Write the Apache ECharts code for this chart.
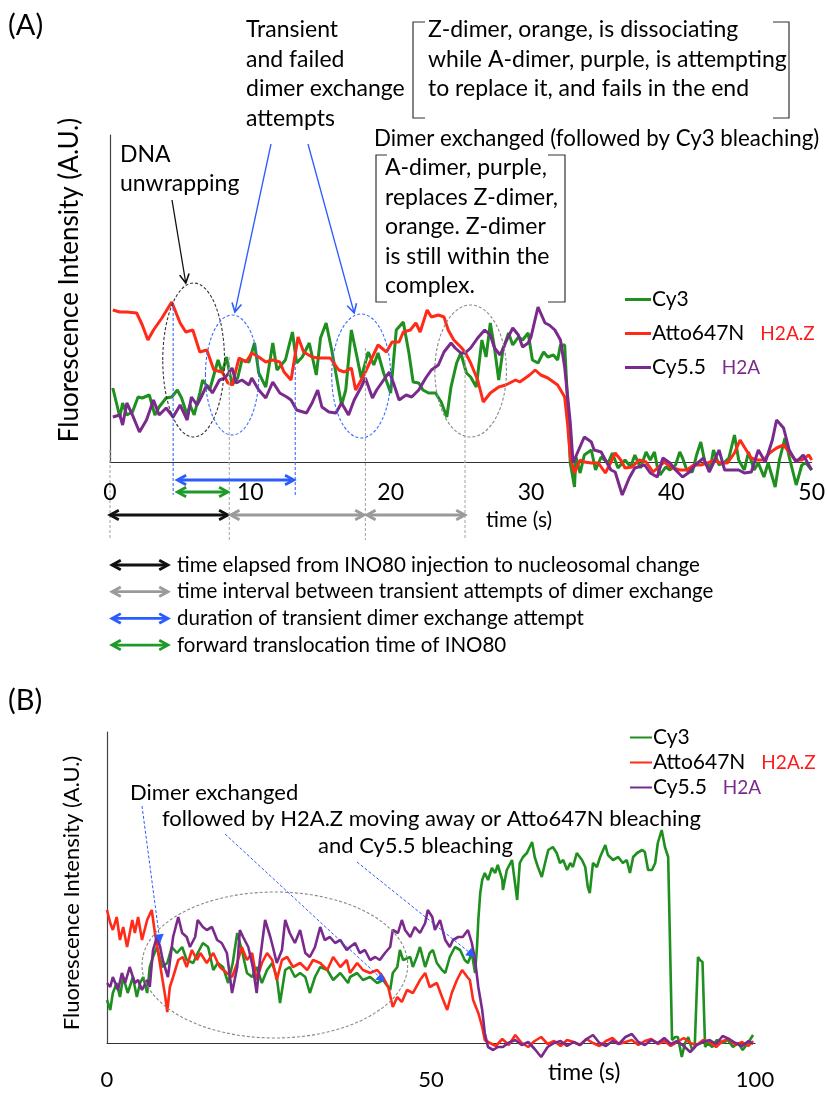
<!DOCTYPE html>
<html>
<head>
<meta charset="utf-8">
<script src="https://cdn.jsdelivr.net/npm/echarts@6/dist/echarts.min.js"></script>
<style>
  html, body { margin: 0; padding: 0; background: #fff; }
  #main { width: 828px; height: 1097px; }
</style>
</head>
<body>
<div id="main"></div>
<script>
// ---- data: [time (s), intensity (A.U.)] ----
const seriesNames = ['Cy3', 'Atto647N', 'Cy5.5']
const ticksA = [0, 10, 20, 30, 40, 50]
const ticksB = [0, 50, 100]

// (A) trace
const cy3A = [[0.2,74],[0.7,45],[0.9,59],[1.2,47],[1.6,50],[2.0,65],[2.3,64],[2.8,67],[3.2,47],[3.5,55],[4.0,64],[4.4,65],[4.8,72],[5.1,64],[5.5,47],[5.7,57],[6.0,47],[6.4,69],[6.6,82],[7.1,72],[7.7,102],[8.0,89],[8.3,105],[8.7,77],[9.1,84],[9.4,102],[9.9,100],[10.3,119],[10.6,89],[11.1,75],[11.6,119],[11.9,92],[12.5,102],[13.0,130],[13.3,99],[13.7,105],[14.2,119],[14.7,87],[15.0,124],[15.4,139],[15.8,112],[16.5,57],[16.8,72],[17.2,132],[17.6,105],[17.9,84],[18.4,110],[18.8,97],[19.1,109],[19.5,89],[20.0,69],[20.4,132],[20.9,140],[21.3,109],[21.6,80],[22.0,79],[22.3,72],[22.7,69],[23.2,69],[23.6,60],[24.0,45],[24.3,75],[24.7,99],[25.0,109],[25.4,89],[25.7,85],[26.1,75],[26.5,122],[26.8,105],[27.1,139],[27.4,114],[27.7,82],[28.0,112],[28.4,129],[28.7,117],[29.1,125],[29.4,122],[29.8,129],[30.1,102],[30.5,99],[30.9,110],[31.2,105],[31.6,107],[31.9,102],[32.1,117],[32.4,117],[32.6,62],[32.8,-1],[33.1,-25],[33.2,5],[33.5,-11],[33.8,7],[34.3,12],[34.6,-8],[35.0,5],[35.5,-1],[35.8,9],[36.2,-6],[36.7,2],[37.1,-5],[37.4,7],[37.8,-6],[38.2,10],[38.5,2],[38.8,10],[39.0,-5],[39.2,-13],[39.6,-5],[39.9,-8],[40.3,-3],[40.6,10],[40.8,4],[41.1,-8],[41.5,-10],[41.8,7],[42.1,20],[42.4,-1],[42.8,-5],[43.0,12],[43.4,-3],[43.8,0],[44.1,4],[44.5,27],[44.8,2],[45.2,-8],[45.5,10],[45.9,-8],[46.2,-1],[46.6,-15],[46.9,-1],[47.4,-25],[47.7,2],[48.1,24],[48.4,5],[48.9,-23],[49.3,-3],[49.6,-1],[50.0,-8]]
const atto647A = [[0.2,152],[0.7,150],[1.2,150],[1.9,149],[2.3,137],[2.7,122],[3.1,132],[3.7,144],[4.4,160],[5.0,139],[5.4,130],[5.9,132],[6.4,110],[6.9,112],[7.4,92],[8.0,90],[8.4,79],[8.7,77],[9.2,104],[9.7,100],[10.1,109],[10.6,105],[11.1,100],[11.6,102],[12.1,100],[12.4,90],[12.9,82],[13.4,125],[13.8,110],[14.4,105],[14.9,104],[15.7,104],[16.3,92],[16.7,90],[17.2,94],[17.5,72],[17.9,82],[18.2,90],[18.7,105],[19.1,117],[19.7,110],[20.1,120],[20.6,120],[20.9,130],[21.4,132],[21.8,139],[22.1,130],[22.6,152],[22.9,145],[23.4,147],[23.8,145],[24.1,132],[24.5,122],[25.0,115],[25.3,110],[25.7,99],[26.2,82],[26.6,60],[27.1,69],[27.7,75],[28.2,77],[28.9,82],[29.2,80],[29.6,84],[29.9,87],[30.3,92],[30.7,87],[31.2,84],[31.9,77],[32.4,65],[32.6,39],[32.8,5],[33.1,-11],[33.5,2],[33.8,0],[34.3,-1],[34.8,-1],[35.3,-11],[35.7,0],[36.0,9],[36.4,2],[36.7,-6],[37.2,-5],[37.7,2],[38.2,0],[38.7,-10],[39.1,-5],[39.5,0],[39.9,-5],[40.6,-8],[41.1,-8],[41.6,-3],[42.1,-3],[42.6,-1],[43.0,2],[43.5,-1],[44.0,-1],[44.5,9],[44.9,22],[45.2,15],[45.7,4],[46.1,2],[46.6,2],[47.0,9],[47.5,14],[48.0,17],[48.4,10],[48.8,2],[49.3,2],[49.8,7],[50.0,2]]
const cy55A = [[0.2,45],[0.7,47],[0.9,37],[1.2,59],[1.6,47],[2.1,30],[2.6,42],[3.1,62],[3.5,47],[4.0,54],[4.5,45],[5.0,57],[5.5,42],[5.8,65],[6.2,57],[6.5,65],[6.9,77],[7.3,69],[7.8,82],[8.2,84],[8.7,94],[9.0,79],[9.4,82],[9.9,77],[10.1,84],[10.6,72],[11.1,64],[11.6,80],[12.1,69],[12.6,65],[12.9,62],[13.3,52],[14.0,49],[14.4,59],[14.8,72],[15.1,55],[15.6,50],[16.1,49],[16.5,59],[17.0,47],[17.4,62],[17.9,75],[18.2,84],[18.7,64],[19.0,72],[19.5,82],[19.9,90],[20.2,79],[20.6,62],[21.1,67],[21.5,65],[22.0,72],[22.5,84],[22.9,92],[23.4,97],[23.8,110],[24.3,119],[24.6,114],[25.0,109],[25.3,109],[25.7,114],[26.2,124],[26.7,132],[27.1,127],[27.4,114],[27.8,107],[28.2,120],[28.7,134],[29.1,127],[29.4,115],[29.8,119],[30.0,125],[30.5,155],[31.0,139],[31.3,137],[31.7,132],[32.1,122],[32.4,95],[32.8,39],[33.0,-1],[33.3,9],[33.8,25],[34.3,20],[34.5,12],[35.0,10],[35.3,2],[35.7,-8],[36.0,-10],[36.5,-33],[37.0,-16],[37.4,-6],[38.1,-3],[38.5,-11],[39.0,-15],[39.4,4],[39.9,-1],[40.3,-8],[40.8,-15],[41.3,-10],[41.7,-3],[42.3,4],[42.7,-10],[43.0,-1],[43.4,12],[43.8,-8],[44.3,-8],[44.8,-8],[45.2,-11],[45.7,-10],[46.2,12],[46.7,0],[47.2,22],[47.5,42],[48.0,34],[48.4,12],[48.9,0],[49.4,7],[50.0,-8]]

// (B) trace
const cy3B = [[0,43],[0.5,33],[0.9,50],[1.5,60],[2.0,46],[2.5,66],[3.2,50],[4.0,66],[4.6,46],[5.1,60],[5.6,66],[6.2,50],[6.6,76],[7.1,86],[7.7,96],[8.5,76],[9.3,80],[10.0,96],[10.8,90],[11.6,96],[12.3,83],[13.3,80],[14.0,90],[14.8,100],[15.6,96],[16.4,73],[17.1,80],[17.9,76],[18.7,60],[19.4,80],[20.1,110],[20.8,93],[21.6,70],[22.4,66],[23.1,76],[23.9,60],[24.7,73],[25.5,80],[26.2,66],[26.7,40],[27.5,73],[28.2,76],[29.0,66],[29.8,70],[30.6,66],[31.3,50],[32.1,66],[32.9,76],[34.0,73],[34.9,63],[36.0,70],[37.2,60],[37.5,66],[38.6,70],[39.5,63],[40.6,66],[41.7,60],[42.6,63],[43.7,53],[44.1,70],[44.8,76],[45.2,93],[45.7,83],[46.8,86],[47.2,76],[47.8,86],[48.3,96],[49.1,76],[49.8,90],[50.3,93],[50.9,80],[51.7,73],[52.2,70],[52.9,86],[53.7,96],[54.5,93],[55.2,83],[55.7,80],[56.3,90],[56.8,70],[57.1,96],[57.3,123],[57.6,150],[57.9,163],[58.3,170],[58.8,163],[59.4,175],[59.9,170],[60.3,178],[61.0,163],[61.1,153],[61.7,173],[62.5,183],[63.3,143],[63.7,180],[64.2,186],[64.8,190],[65.6,201],[66.0,186],[66.5,176],[67.1,166],[67.6,180],[68.1,193],[68.8,196],[69.4,190],[69.9,180],[70.4,183],[71.0,173],[71.5,180],[71.9,176],[72.5,190],[73.3,183],[73.8,176],[74.2,156],[74.5,150],[75.0,180],[75.6,176],[76.1,186],[76.9,198],[77.3,188],[78.1,183],[78.9,186],[79.6,180],[80.2,183],[80.7,170],[81.2,186],[81.8,190],[82.6,193],[83.0,191],[83.5,173],[84.1,173],[84.6,180],[85.0,200],[85.6,213],[86.1,196],[86.6,186],[87.2,3],[87.7,6],[88.1,6],[88.7,-14],[89.2,0],[89.7,6],[90.3,-7],[90.7,-4],[91.2,86],[91.5,83],[91.9,81],[92.3,-4],[92.7,0],[93.4,-4],[94.1,3],[95.1,0],[95.8,3],[96.6,-4],[97.4,0],[98.1,-7],[98.9,0],[99.7,8]]
const atto647B = [[0,133],[0.5,120],[0.9,113],[1.5,126],[2.0,103],[2.5,116],[3.1,96],[3.9,123],[4.3,110],[4.8,126],[5.4,103],[6.2,123],[6.9,133],[7.4,110],[7.9,90],[8.5,66],[9.0,46],[9.3,31],[9.7,56],[10.2,66],[11.0,83],[11.7,86],[12.3,76],[13.1,93],[13.9,83],[14.4,90],[15.4,80],[16.4,90],[17.4,76],[18.5,70],[19.3,66],[20.1,80],[20.8,96],[21.6,83],[22.4,90],[23.1,63],[23.9,80],[24.7,90],[25.5,83],[26.2,63],[27.0,83],[27.8,86],[28.7,76],[29.8,80],[30.9,73],[31.8,83],[32.9,80],[34.0,73],[34.9,86],[36.0,76],[37.0,83],[37.5,70],[38.6,80],[39.5,73],[40.6,70],[41.7,73],[42.6,66],[43.4,56],[44.1,36],[44.8,46],[45.5,41],[46.3,53],[47.2,50],[48.3,63],[49.1,70],[49.8,56],[50.9,60],[51.7,46],[52.5,33],[53.2,50],[54.0,63],[54.8,73],[55.6,66],[56.0,63],[56.5,43],[57.3,30],[57.9,16],[58.3,3],[59.1,0],[60,-3],[61,4],[62,-2],[63,8],[64,0],[65,-4],[66,2],[67,6],[68,-1],[69,2],[70,-3],[71,3],[72,1],[73,-2],[74,4],[75,0],[76,-3],[77,2],[78,5],[79,-1],[80,1],[81,3],[82,-2],[83,2],[84,4],[85,-1],[86,2],[87,-3],[88,1],[89,5],[90,0],[91,-2],[92,3],[93,1],[94,-4],[95,2],[96,4],[97,-2],[98,1],[99,-3],[99.7,2]]
const cy55B = [[0,60],[0.5,56],[0.9,66],[1.7,53],[2.3,70],[2.8,60],[3.5,76],[4.3,60],[4.8,63],[5.4,53],[6.2,63],[6.6,56],[7.1,93],[7.7,106],[8.2,96],[8.6,83],[9.4,66],[10.2,106],[11.0,126],[11.6,110],[12.3,106],[12.8,96],[13.6,106],[14.0,123],[14.8,116],[15.4,113],[16.2,116],[17.0,103],[17.7,100],[18.5,90],[19.3,50],[20.1,76],[20.5,113],[21.0,106],[21.8,96],[22.5,76],[23.1,50],[23.6,83],[24.4,123],[25.2,106],[25.6,96],[26.2,80],[27.0,93],[27.5,123],[28.2,110],[29.0,100],[29.8,113],[30.6,90],[31.3,86],[32.1,96],[32.9,116],[33.6,103],[34.4,106],[35.2,100],[36.0,103],[37.0,93],[37.5,96],[38.3,100],[39.0,90],[39.8,93],[40.6,83],[41.4,86],[42.1,83],[42.9,90],[43.7,96],[44.1,113],[44.9,110],[45.5,123],[46.0,113],[46.8,106],[47.5,116],[48.3,110],[49.1,120],[49.5,133],[50.2,126],[50.6,113],[51.4,123],[52.2,103],[52.9,96],[53.4,103],[54.2,106],[54.9,106],[55.7,113],[56.3,100],[56.8,83],[57.3,56],[57.9,33],[58.3,10],[58.8,-4],[59.6,-7],[60.3,-4],[61.1,-4],[61.9,0],[63,3],[64,-2],[65,1],[66,-6],[67,-14],[68,-4],[69,0],[70,2],[71,-3],[72,1],[73,-2],[74,4],[75,8],[76,0],[77,-3],[78,2],[79,-1],[80,6],[81,9],[82,1],[83,-2],[84,3],[85,0],[86,5],[87,-1],[88,2],[89,-3],[90,-9],[91,-2],[92,1],[93,3],[94,-1],[95,7],[96,4],[97,0],[98,-3],[99,2],[99.7,-1]]

// annotation anchors in data units
// vertical dashed markers: [time, top value, bottom value]
const blueMarksA = [[4.5, 159, -33], [13.2, 100, -33]]
const grayMarksA = [[0, 12, -78], [8.5, 105, -78], [18.2, 114, -78], [25.3, 112, -78]]
// duration arrows under axis: [from, to, value, kind]
const spansA = [[4.8, 13.1, -18, 'blue'], [4.8, 8.4, -30, 'green'], [0, 8.4, -53, 'black'], [8.6, 18.1, -53, 'gray'], [18.3, 25.3, -53, 'gray']]
// ellipses: [t center, v center, t radius, v radius, kind]
const ellipsesA = [[5.96, 102, 2.2, 77, 'black'], [8.7, 87, 1.9, 60, 'blue'], [17.9, 86, 2.1, 62, 'blue'], [25.7, 91, 2.55, 66, 'gray']]
const ellipsesB = [[25.9, 78, 20.5, 73, 'gray']]
// pointer arrow tips
const pointersA = [[5.4, 179, 'black'], [8.9, 150, 'blue'], [17.4, 149, 'blue']]
const pointersB = [[8.2, 100], [42.9, 61], [56.8, 86]]

const GREEN = '#1f8f1f'
const RED = '#ff2a17'
const PURPLE = '#7a2a8c'
const BLUE = '#2a5cff'
const FONT = 'Lato, "Open Sans", sans-serif'
const kindColor = { blue: BLUE, green: '#1f9a2a', black: '#111', gray: '#9a9a9a' }

const chart = echarts.init(document.getElementById('main'))

const legendRich = {
  n: { fontFamily: FONT, fontSize: 21, color: '#000' },
  z: { fontFamily: FONT, fontSize: 19, color: '#ff1a1a', padding: [0, 0, 0, 16] },
  a: { fontFamily: FONT, fontSize: 19, color: PURPLE, padding: [0, 0, 0, 16] }
}
const legendFmt = (name) => {
  if (name === 'Atto647N') return '{n|Atto647N}{z|H2A.Z}'
  if (name === 'Cy5.5') return '{n|Cy5.5}{a|H2A}'
  return '{n|' + name + '}'
}

const mkSeries = (name, data, idx, color, w) => ({
  name, type: 'line', data, xAxisIndex: idx, yAxisIndex: idx,
  showSymbol: false, clip: false, smooth: false,
  lineStyle: { color, width: w }, itemStyle: { color },
  z: 3
})

const axisX = (idx, max, interval, margin, size) => ({
  type: 'value', gridIndex: idx, min: 0, max, interval,
  axisLine: { show: true, onZero: false, lineStyle: { color: '#333', width: 1.2 } },
  axisTick: { show: false },
  splitLine: { show: false },
  axisLabel: { color: '#000', fontFamily: FONT, fontSize: size, margin }
})
const axisY = (idx, max) => ({
  type: 'value', gridIndex: idx, min: 0, max,
  axisLine: { show: true, lineStyle: { color: '#444', width: 1.2 } },
  axisTick: { show: false }, axisLabel: { show: false }, splitLine: { show: false }
})

chart.setOption({
  animation: false,
  backgroundColor: '#fff',
  grid: [
    { left: 110, top: 135, width: 705, height: 327 },
    { left: 107, top: 732, width: 648, height: 311 }
  ],
  xAxis: [axisX(0, 50, 10, 19, 23), axisX(1, 100, 50, 26, 22)],
  yAxis: [axisY(0, 327), axisY(1, 311)],
  legend: [
    { left: 620, top: 284, orient: 'vertical', icon: 'rect', itemWidth: 26, itemHeight: 3,
      itemGap: 13, data: seriesNames, formatter: legendFmt, selectedMode: false,
      textStyle: { rich: legendRich, padding: [0, 0, 0, -4] } },
    { left: 625, top: 722, orient: 'vertical', icon: 'rect', itemWidth: 22, itemHeight: 2,
      itemGap: 4, data: seriesNames, formatter: legendFmt, selectedMode: false,
      textStyle: { rich: legendRich, padding: [0, 0, 0, -4] } }
  ],
  series: [
    mkSeries('Cy3', cy3A, 0, GREEN, 3),
    mkSeries('Atto647N', atto647A, 0, RED, 3),
    mkSeries('Cy5.5', cy55A, 0, PURPLE, 3),
    mkSeries('Cy3', cy3B, 1, GREEN, 2.6),
    mkSeries('Atto647N', atto647B, 1, RED, 2.6),
    mkSeries('Cy5.5', cy55B, 1, PURPLE, 2.6)
  ]
})

// ---- annotations, placed through the axes ----
const P = (g, t, v) => chart.convertToPixel({ gridIndex: g }, [t, v])
const els = []
const txt = (text, x, y, size, opts = {}) => els.push({
  type: 'text', x, y, rotation: opts.rot || 0, silent: true, z: 50,
  style: { text, fill: opts.color || '#000', fontFamily: FONT, fontSize: size,
    lineHeight: opts.lh || size * 1.3, align: opts.align || 'left', verticalAlign: opts.va || 'top' }
})
const seg = (x1, y1, x2, y2, color, w, dash) => els.push({
  type: 'line', silent: true, z: 40,
  shape: { x1, y1, x2, y2 }, style: { stroke: color, lineWidth: w, lineDash: dash || null }
})
const head = (x1, y1, x2, y2, color, w, size, filled) => {
  const a = Math.atan2(y2 - y1, x2 - x1)
  const p1 = [x2 - size * Math.cos(a - 0.5), y2 - size * Math.sin(a - 0.5)]
  const p2 = [x2 - size * Math.cos(a + 0.5), y2 - size * Math.sin(a + 0.5)]
  els.push(filled
    ? { type: 'polygon', silent: true, z: 41, shape: { points: [p1, [x2, y2], p2] }, style: { fill: color } }
    : { type: 'polyline', silent: true, z: 41, shape: { points: [p1, [x2, y2], p2] }, style: { stroke: color, lineWidth: w } })
}
const dblArrow = (x1, x2, y, color) => {
  seg(x1 + 2, y, x2 - 2, y, color, 2.8)
  head(x2, y, x1, y, color, 2.8, 10, false)
  head(x1, y, x2, y, color, 2.8, 10, false)
}
const bracket = (x1, x2, y1, y2, tl, tr) => {
  els.push({ type: 'polyline', silent: true, z: 40, shape: { points: [[x1 + tl, y1], [x1, y1], [x1, y2], [x1 + tl, y2]] }, style: { stroke: '#333', lineWidth: 1.2 } })
  els.push({ type: 'polyline', silent: true, z: 40, shape: { points: [[x2 - tr, y1], [x2, y1], [x2, y2], [x2 - tr, y2]] }, style: { stroke: '#333', lineWidth: 1.2 } })
}
const ellipse = (g, e) => {
  const c = P(g, e[0], e[1])
  const rx = P(g, e[0] + e[2], e[1])[0] - c[0]
  const ry = c[1] - P(g, e[0], e[1] + e[3])[1]
  const col = e[4] === 'blue' ? '#3a6cff' : (e[4] === 'black' ? '#333' : '#888')
  els.push({ type: 'ellipse', silent: true, z: 40, shape: { cx: c[0], cy: c[1], rx, ry },
    style: { fill: 'none', stroke: col, lineWidth: 1.1, lineDash: [3, 2] } })
}

// panel labels and axis titles
txt('(A)', 8, 7, 29)
txt('(B)', 8, 682, 29)
txt('Fluorescence Intensity (A.U.)', 70, 280, 26, { rot: Math.PI / 2, align: 'center', va: 'middle' })
txt('Fluorescence Intensity (A.U.)', 72, 893, 22, { rot: Math.PI / 2, align: 'center', va: 'middle' })
txt('time (s)', 486, 520, 21, { va: 'middle' })
txt('time (s)', 548, 1073, 23, { va: 'middle' })

// (A) annotations
txt('DNA\nunwrapping', 120, 140, 23, { lh: 29 })
txt('Transient\nand failed\ndimer exchange\nattempts', 246, 15, 23, { lh: 29.5 })
txt('Z-dimer, orange, is dissociating\nwhile A-dimer, purple, is attempting\nto replace it, and fails in the end', 428, 15, 23, { lh: 29.5 })
bracket(413, 789, 22, 118, 12, 16)
txt('Dimer exchanged (followed by Cy3 bleaching)', 374, 139, 22.3, { va: 'middle' })
txt('A-dimer, purple,\nreplaces Z-dimer,\norange. Z-dimer\nis still within the\ncomplex.', 385, 153, 23, { lh: 29.5 })
bracket(376, 565, 155, 302, 11, 17)

blueMarksA.forEach(m => { const a = P(0, m[0], m[1]), b = P(0, m[0], m[2]); seg(a[0], a[1], b[0], b[1], '#3a6cff', 1.1, [3, 2]) })
grayMarksA.forEach(m => { const a = P(0, m[0], m[1]), b = P(0, m[0], m[2]); seg(a[0], a[1], b[0], b[1], '#aaa', 1.1, [3, 2]) })
ellipsesA.forEach(e => ellipse(0, e))
spansA.forEach(s => { const a = P(0, s[0], s[2]), b = P(0, s[1], s[2]); dblArrow(a[0], b[0], a[1], kindColor[s[3]]) })

const startsA = [[172, 200], [271, 144], [308, 144]]
pointersA.forEach((p, i) => {
  const tip = P(0, p[0], p[1]); const s = startsA[i]
  const col = p[2] === 'blue' ? BLUE : '#111'
  seg(s[0], s[1], tip[0], tip[1], col, 1.3)
  head(s[0], s[1], tip[0], tip[1], col, 1.6, 10, false)
})

// arrow key under (A)
const keyA = [['black', 'time elapsed from INO80 injection to nucleosomal change'],
  ['gray', 'time interval between transient attempts of dimer exchange'],
  ['blue', 'duration of transient dimer exchange attempt'],
  ['green', 'forward translocation time of INO80']]
keyA.forEach((k, i) => {
  const y = 565 + i * 26.7
  dblArrow(112, 168, y, kindColor[k[0]])
  txt(k[1], 177, y, 20.5, { va: 'middle' })
})

// (B) annotations
txt('Dimer exchanged', 130, 793, 22, { va: 'middle' })
txt('followed by H2A.Z moving away or Atto647N bleaching', 162, 819, 22, { va: 'middle' })
txt('and Cy5.5 bleaching', 318, 846, 22, { va: 'middle' })
ellipsesB.forEach(e => ellipse(1, e))
const startsB = [[142, 806], [225, 834], [357, 862]]
pointersB.forEach((p, i) => {
  const tip = P(1, p[0], p[1]); const s = startsB[i]
  seg(s[0], s[1], tip[0], tip[1], BLUE, 1, [3, 2])
  head(s[0], s[1], tip[0], tip[1], BLUE, 1, 10, true)
})

chart.setOption({ graphic: els })
</script>
</body>
</html>
